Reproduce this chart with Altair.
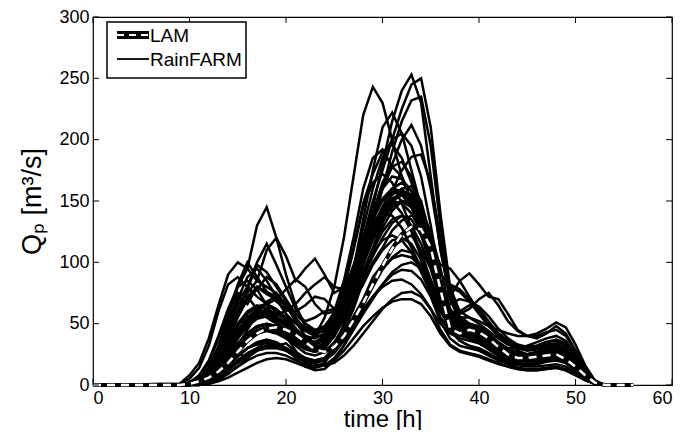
import altair as alt
import pandas as pd

# time grid [h] of the ensemble members
hours = [0, 9, 10, 11, 12, 13, 14, 15, 16, 17, 18, 19, 20, 21, 22, 23, 24, 25, 26, 27, 28,
         29, 30, 31, 32, 33, 34, 35, 36, 37, 38, 39, 40, 41, 42, 43, 44, 45, 46, 47, 48,
         49, 50, 51, 52, 53]

# RainFARM ensemble members, Qp [m3/s] at the hours above
m01 = [0, 0, 2, 6, 14, 30, 55, 80, 95, 130, 145, 120, 90, 65, 48, 42, 45, 55, 70, 90, 110, 130, 145, 150, 140, 125, 105, 80, 55, 45, 42, 40, 36, 30, 25, 22, 20, 20, 22, 24, 25, 22, 15, 7, 1, 0]
m02 = [0, 0, 1, 4, 10, 20, 35, 50, 60, 65, 62, 55, 48, 40, 35, 40, 55, 80, 120, 170, 220, 243, 230, 200, 170, 150, 130, 100, 70, 55, 48, 45, 40, 34, 28, 24, 22, 22, 24, 26, 27, 24, 16, 8, 2, 0]
m03 = [0, 0, 0, 2, 6, 14, 25, 38, 48, 55, 58, 55, 50, 42, 35, 32, 38, 50, 68, 90, 115, 145, 180, 215, 240, 253, 230, 170, 110, 70, 55, 50, 48, 42, 35, 30, 26, 25, 27, 30, 31, 28, 20, 10, 3, 0]
m04 = [0, 0, 1, 3, 8, 16, 28, 42, 55, 62, 66, 60, 52, 45, 40, 38, 42, 55, 72, 95, 120, 150, 175, 200, 225, 245, 250, 210, 140, 80, 60, 55, 50, 44, 38, 33, 30, 30, 32, 35, 36, 32, 22, 11, 3, 0]
m05 = [0, 0, 1, 5, 12, 25, 45, 65, 75, 85, 110, 120, 105, 85, 95, 103, 90, 75, 80, 95, 110, 125, 140, 150, 148, 140, 125, 100, 75, 60, 52, 48, 45, 40, 34, 28, 25, 24, 25, 27, 28, 25, 18, 9, 2, 0]
m06 = [0, 1, 8, 18, 38, 65, 90, 100, 95, 85, 80, 75, 65, 55, 45, 40, 40, 48, 60, 75, 92, 110, 125, 135, 138, 130, 115, 95, 70, 55, 48, 45, 42, 38, 33, 28, 25, 25, 27, 29, 30, 27, 19, 9, 2, 0]
m07 = [0, 0, 0, 1, 3, 7, 12, 18, 24, 28, 30, 30, 28, 24, 20, 17, 16, 18, 24, 32, 42, 52, 62, 70, 75, 76, 72, 62, 45, 33, 28, 26, 24, 21, 18, 15, 13, 12, 12, 13, 14, 12, 8, 4, 1, 0]
m08 = [0, 0, 1, 3, 7, 14, 24, 34, 42, 48, 50, 48, 44, 38, 32, 30, 34, 45, 60, 78, 98, 118, 135, 150, 158, 155, 140, 115, 98, 95, 85, 72, 60, 50, 42, 36, 32, 30, 31, 33, 34, 30, 22, 11, 3, 0]
m09 = [0, 0, 1, 2, 6, 12, 20, 30, 38, 44, 47, 46, 42, 36, 30, 27, 30, 40, 55, 72, 92, 110, 128, 142, 150, 148, 135, 110, 80, 72, 85, 91, 82, 72, 70, 58, 45, 40, 38, 42, 48, 42, 28, 13, 3, 0]
m10 = [0, 0, 0, 2, 5, 11, 19, 28, 36, 42, 45, 44, 40, 34, 29, 27, 30, 40, 54, 70, 88, 105, 120, 132, 138, 135, 122, 98, 70, 58, 55, 55, 52, 48, 45, 42, 40, 40, 42, 46, 51, 47, 33, 16, 4, 0]
m11 = [0, 0, 0, 1, 4, 9, 16, 24, 30, 34, 35, 34, 30, 25, 21, 19, 20, 26, 36, 48, 60, 72, 82, 90, 94, 93, 86, 72, 52, 38, 32, 30, 28, 25, 21, 18, 16, 15, 15, 16, 17, 15, 10, 5, 1, 0]
m12 = [0, 0, 2, 8, 20, 40, 62, 80, 85, 78, 65, 52, 40, 28, 18, 15, 18, 30, 50, 75, 105, 135, 160, 178, 182, 170, 145, 110, 72, 50, 42, 38, 34, 29, 24, 20, 17, 16, 17, 19, 20, 18, 12, 6, 1, 0]
m13 = [0, 0, 0, 2, 5, 11, 20, 32, 45, 58, 68, 72, 65, 52, 40, 34, 36, 48, 68, 95, 128, 160, 185, 200, 205, 195, 170, 130, 85, 60, 50, 46, 42, 36, 30, 26, 23, 22, 23, 25, 26, 23, 16, 8, 2, 0]
m14 = [0, 0, 1, 3, 8, 17, 30, 44, 55, 60, 60, 56, 50, 42, 35, 31, 32, 40, 54, 72, 92, 112, 132, 148, 160, 162, 150, 120, 80, 55, 46, 42, 38, 33, 28, 24, 21, 20, 21, 23, 24, 21, 14, 7, 1, 0]
m15 = [0, 0, 1, 4, 10, 22, 40, 58, 72, 80, 76, 68, 62, 60, 65, 72, 70, 62, 60, 68, 82, 98, 110, 118, 120, 115, 102, 82, 60, 48, 42, 40, 37, 32, 27, 23, 20, 19, 20, 22, 23, 20, 14, 7, 1, 0]
m16 = [0, 0, 0, 0, 1, 4, 9, 15, 22, 28, 32, 33, 30, 26, 22, 20, 22, 30, 44, 62, 85, 110, 135, 158, 175, 186, 188, 165, 120, 75, 55, 48, 44, 38, 32, 27, 24, 23, 24, 26, 27, 24, 17, 9, 2, 0]
m17 = [0, 0, 1, 5, 13, 28, 48, 70, 88, 95, 85, 72, 58, 46, 38, 34, 37, 50, 70, 95, 118, 132, 140, 138, 128, 112, 95, 75, 55, 44, 40, 38, 35, 30, 25, 21, 18, 17, 18, 20, 21, 18, 12, 6, 1, 0]
m18 = [0, 0, 0, 1, 3, 8, 15, 23, 30, 35, 37, 35, 30, 22, 15, 12, 13, 20, 32, 48, 65, 80, 94, 104, 110, 108, 98, 80, 60, 55, 60, 65, 62, 52, 42, 34, 28, 25, 25, 27, 29, 26, 18, 9, 2, 0]
m19 = [0, 0, 1, 3, 7, 15, 26, 38, 48, 54, 56, 54, 48, 40, 33, 30, 34, 46, 66, 95, 135, 175, 210, 222, 205, 175, 145, 110, 75, 55, 47, 44, 40, 35, 29, 25, 22, 21, 22, 24, 25, 22, 15, 8, 2, 0]
m20 = [0, 0, 1, 4, 11, 24, 42, 60, 78, 98, 92, 80, 68, 58, 52, 55, 60, 62, 70, 85, 102, 120, 135, 145, 150, 145, 130, 105, 78, 60, 52, 48, 44, 38, 32, 27, 24, 23, 24, 26, 27, 24, 17, 8, 2, 0]
m21 = [0, 0, 0, 2, 5, 10, 17, 24, 30, 33, 34, 32, 28, 23, 19, 18, 20, 27, 38, 50, 62, 72, 80, 85, 86, 82, 74, 62, 50, 42, 38, 36, 34, 30, 26, 23, 21, 21, 23, 26, 28, 25, 17, 8, 2, 0]
m22 = [0, 0, 1, 3, 8, 17, 29, 42, 52, 57, 57, 52, 45, 37, 31, 29, 35, 52, 78, 110, 145, 165, 172, 165, 148, 128, 108, 86, 66, 52, 45, 42, 38, 33, 28, 24, 21, 20, 21, 23, 24, 21, 14, 7, 1, 0]
m23 = [0, 0, 0, 2, 6, 13, 22, 33, 42, 48, 50, 48, 43, 36, 30, 28, 32, 42, 58, 80, 105, 132, 160, 190, 215, 232, 235, 195, 130, 78, 56, 50, 46, 40, 34, 29, 26, 25, 26, 28, 29, 26, 18, 9, 2, 0]
m24 = [0, 0, 2, 7, 18, 38, 60, 75, 72, 62, 55, 50, 45, 38, 32, 30, 34, 46, 62, 82, 102, 122, 138, 150, 155, 150, 135, 110, 85, 80, 76, 68, 58, 48, 40, 34, 30, 28, 29, 31, 32, 28, 20, 10, 3, 0]
m25 = [0, 0, 0, 0, 1, 3, 6, 10, 14, 18, 21, 22, 21, 18, 15, 14, 16, 22, 32, 45, 58, 70, 82, 92, 98, 100, 95, 82, 62, 45, 36, 32, 28, 24, 20, 17, 14, 13, 13, 14, 15, 13, 9, 4, 1, 0]
m26 = [0, 0, 1, 3, 7, 14, 24, 34, 42, 47, 49, 47, 42, 36, 31, 29, 33, 44, 60, 80, 102, 125, 145, 160, 165, 158, 140, 110, 78, 60, 58, 62, 70, 75, 65, 52, 44, 40, 40, 43, 45, 40, 28, 14, 3, 0]
m27 = [0, 0, 1, 4, 12, 30, 52, 72, 66, 80, 74, 70, 58, 50, 44, 40, 46, 60, 85, 120, 160, 185, 192, 178, 170, 150, 135, 108, 72, 56, 50, 46, 44, 38, 30, 26, 24, 24, 26, 28, 29, 26, 18, 9, 2, 0]
m28 = [0, 0, 0, 1, 4, 9, 16, 26, 22, 30, 36, 32, 34, 27, 22, 19, 21, 28, 40, 52, 70, 88, 98, 112, 118, 122, 110, 95, 68, 45, 36, 32, 30, 26, 22, 19, 17, 17, 18, 20, 21, 19, 13, 6, 1, 0]
m29 = [0, 0, 1, 3, 8, 18, 32, 45, 52, 58, 62, 58, 54, 46, 38, 34, 36, 45, 60, 85, 108, 140, 165, 180, 200, 212, 195, 160, 112, 70, 52, 48, 45, 40, 33, 28, 25, 24, 25, 27, 28, 25, 18, 9, 2, 0]
m30 = [0, 0, 0, 3, 9, 20, 36, 55, 70, 78, 88, 82, 70, 58, 50, 44, 46, 55, 70, 90, 110, 128, 142, 155, 160, 152, 138, 112, 90, 82, 78, 70, 60, 50, 42, 36, 32, 30, 30, 32, 33, 30, 21, 10, 3, 0]
m31 = [0, 1, 5, 14, 32, 60, 82, 88, 80, 72, 66, 60, 52, 44, 38, 35, 38, 50, 70, 95, 120, 142, 160, 170, 168, 158, 140, 112, 80, 58, 48, 44, 40, 35, 30, 26, 23, 22, 23, 25, 26, 23, 16, 8, 2, 0]
m32 = [0, 0, 0, 1, 4, 10, 18, 28, 36, 42, 44, 42, 38, 32, 26, 24, 27, 35, 48, 66, 84, 100, 112, 126, 134, 138, 142, 125, 95, 62, 46, 40, 36, 32, 27, 23, 20, 19, 20, 22, 23, 20, 14, 7, 1, 0]
m33 = [0, 0, 1, 5, 14, 30, 50, 68, 80, 100, 115, 98, 80, 62, 50, 45, 48, 58, 75, 98, 120, 140, 152, 160, 158, 148, 130, 105, 78, 60, 52, 48, 44, 39, 33, 28, 25, 24, 25, 27, 28, 25, 17, 9, 2, 0]
m34 = [0, 0, 0, 2, 6, 14, 26, 40, 50, 56, 60, 58, 60, 66, 75, 82, 88, 80, 78, 90, 105, 122, 138, 146, 150, 145, 128, 104, 76, 58, 50, 46, 42, 37, 31, 27, 24, 23, 24, 26, 27, 24, 17, 8, 2, 0]
m35 = [0, 0, 0, 1, 3, 7, 13, 20, 26, 30, 32, 31, 28, 24, 21, 20, 22, 30, 42, 56, 70, 84, 95, 103, 106, 104, 96, 82, 62, 48, 42, 40, 38, 36, 33, 30, 30, 32, 35, 38, 40, 36, 25, 12, 3, 0]
m36 = [0, 0, 1, 3, 9, 20, 34, 48, 58, 64, 66, 62, 55, 46, 38, 35, 40, 55, 80, 112, 148, 172, 190, 196, 185, 165, 140, 110, 76, 56, 48, 45, 42, 37, 31, 27, 24, 23, 24, 26, 27, 24, 17, 8, 2, 0]
m37 = [0, 0, 0, 2, 5, 12, 22, 32, 40, 45, 47, 45, 41, 35, 30, 28, 32, 42, 58, 76, 94, 108, 118, 122, 118, 108, 92, 75, 62, 66, 70, 68, 64, 56, 46, 38, 33, 31, 32, 35, 37, 34, 24, 12, 3, 0]
m38 = [0, 0, 1, 5, 14, 32, 58, 82, 100, 88, 76, 72, 64, 54, 46, 42, 44, 52, 66, 84, 104, 124, 140, 152, 156, 150, 136, 110, 82, 62, 52, 48, 44, 38, 32, 27, 24, 23, 24, 26, 27, 24, 17, 8, 2, 0]
m39 = [0, 0, 0, 2, 7, 16, 30, 44, 54, 60, 66, 70, 78, 86, 80, 66, 58, 60, 72, 92, 115, 135, 150, 158, 155, 145, 126, 100, 74, 58, 50, 46, 42, 37, 31, 27, 24, 23, 24, 26, 27, 24, 17, 8, 2, 0]
m40 = [0, 0, 0, 0, 2, 5, 10, 15, 20, 24, 26, 26, 24, 20, 17, 15, 16, 20, 28, 38, 48, 56, 63, 68, 70, 70, 66, 56, 42, 32, 27, 25, 23, 20, 17, 15, 13, 12, 12, 13, 14, 12, 8, 4, 1, 0]

members = [m01, m02, m03, m04, m05, m06, m07, m08, m09, m10, m11, m12, m13, m14,
           m15, m16, m17, m18, m19, m20, m21, m22, m23, m24, m25, m26, m27, m28,
           m29, m30, m31, m32, m33, m34, m35, m36, m37, m38, m39, m40]

# LAM reference run
lam_hours = [0, 9, 10, 11, 12, 13, 14, 15, 16, 17, 18, 19, 20, 21, 22, 23, 24, 25, 26, 27, 28,
             29, 30, 31, 32, 33, 34, 35, 36, 37, 38, 39, 40, 41, 42, 43, 44, 45, 46, 47, 48,
             49, 50, 51, 52, 53, 56]
lam_q = [0, 0, 1, 3, 6, 11, 18, 27, 36, 42, 46, 47, 45, 41, 35, 29, 27, 31, 40, 53, 67,
         82, 97, 111, 123, 129, 127, 112, 78, 46, 42, 45, 43, 38, 31, 25, 22, 22, 23, 24, 25,
         21, 15, 8, 2, 0, 0]

x_ticks = [0, 10, 20, 30, 40, 50, 60]
y_ticks = [0, 50, 100, 150, 200, 250, 300]

legend_labels = ["LAM", "RainFARM"]

FONT = "Liberation Sans, Arial, Helvetica, sans-serif"
W, H = 579, 368

rows = []
for i, m in enumerate(members):
    for t, q in zip(hours, m):
        rows.append({"t": t, "q": q, "member": f"r{i:02d}"})
ens = pd.DataFrame(rows)
lam = pd.DataFrame({"t": lam_hours, "q": lam_q})
xt = pd.DataFrame({"t": x_ticks})
yt = pd.DataFrame({"q": y_ticks})
one = pd.DataFrame({"k": [0]})

xs = alt.Scale(domain=[0, 60], nice=False, zero=False)
ys = alt.Scale(domain=[0, 300], nice=False)
x_axis = alt.Axis(values=x_ticks, title="time [h]", grid=False, domain=False, ticks=False,
                  labelPadding=4, labelFontSize=18, titleFontSize=24,
                  titleY=41, titleBaseline="alphabetic",
                  titleFontWeight="normal", labelFont=FONT, titleFont=FONT,
                  labelColor="black", titleColor="black")
y_axis = alt.Axis(values=y_ticks, title="Qₚ [m³/s]", grid=False, domain=False, ticks=False,
                  labelPadding=4, labelFontSize=18, titleFontSize=27, titlePadding=12,
                  titleFontWeight="normal", labelFont=FONT, titleFont=FONT,
                  labelColor="black", titleColor="black")
X = alt.X("t:Q", scale=xs, axis=x_axis)
Y = alt.Y("q:Q", scale=ys, axis=y_axis)

ens_layer = alt.Chart(ens).mark_line(color="black", strokeWidth=2.5).encode(
    x=X, y=Y, detail="member:N")
lam_black = alt.Chart(lam).mark_line(color="black", strokeWidth=4).encode(x=X, y=Y)
lam_white = alt.Chart(lam).mark_line(color="white", strokeWidth=2.5, strokeDash=[8, 6]).encode(x=X, y=Y)

tb = alt.Chart(xt).mark_rule(color="black", strokeWidth=1)
bottom_ticks = tb.encode(x=X, y=alt.value(H), y2=alt.value(H - 6))
top_ticks = tb.encode(x=X, y=alt.value(0), y2=alt.value(6))
tl = alt.Chart(yt).mark_rule(color="black", strokeWidth=1)
left_ticks = tl.encode(y=Y, x=alt.value(0), x2=alt.value(6))
right_ticks = tl.encode(y=Y, x=alt.value(W), x2=alt.value(W - 6))

leg = alt.Chart(one)
leg_box = leg.mark_rect(fill="white", stroke="black", strokeWidth=1.5).encode(
    x=alt.value(14), x2=alt.value(153), y=alt.value(5), y2=alt.value(61))
leg_lam_b = leg.mark_rule(color="black", strokeWidth=8).encode(
    x=alt.value(24), x2=alt.value(56), y=alt.value(18))
leg_lam_w = leg.mark_rule(color="white", strokeWidth=2, strokeDash=[7, 5]).encode(
    x=alt.value(24), x2=alt.value(56), y=alt.value(18))
leg_rf = leg.mark_rule(color="black", strokeWidth=1.8).encode(
    x=alt.value(24), x2=alt.value(56), y=alt.value(42))
leg_t1 = leg.mark_text(text=legend_labels[0], align="left", baseline="middle", fontSize=19,
                       font=FONT, color="black").encode(x=alt.value(57), y=alt.value(19))
leg_t2 = leg.mark_text(text=legend_labels[1], align="left", baseline="middle", fontSize=19,
                       font=FONT, color="black").encode(x=alt.value(57), y=alt.value(43))

chart = alt.layer(
    ens_layer, lam_black, lam_white,
    bottom_ticks, top_ticks, left_ticks, right_ticks,
    leg_box, leg_lam_b, leg_lam_w, leg_rf, leg_t1, leg_t2,
).properties(
    width=W, height=H,
    autosize=alt.AutoSizeParams(type="none"),
    padding={"left": 85, "top": 9, "right": 2, "bottom": 45},
    background="white",
).configure_view(stroke="black", strokeWidth=1.2)

chart.save("out.html", embed_options={"renderer": "svg", "actions": False})
